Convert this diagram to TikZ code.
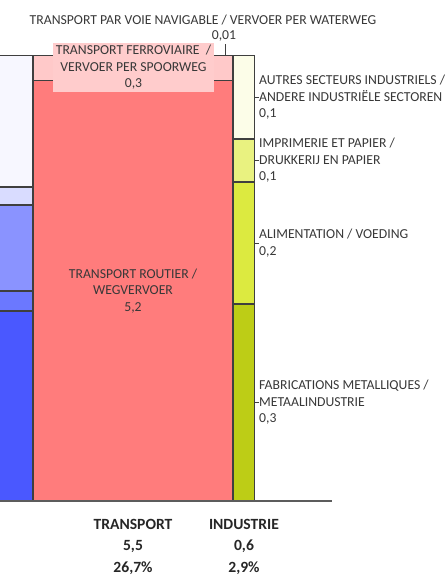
\documentclass[tikz,border=0pt]{standalone}
\usepackage{fontspec}
\setmainfont{Carlito}
\usetikzlibrary{positioning}

\definecolor{edgegrey}{HTML}{3F3F3F}
\definecolor{txtgrey}{HTML}{383838}
\definecolor{blueA}{HTML}{F7F7FF}
\definecolor{blueB}{HTML}{D9DCFF}
\definecolor{blueC}{HTML}{8A93FF}
\definecolor{blueD}{HTML}{6B78FF}
\definecolor{blueE}{HTML}{4A58FF}
\definecolor{roadred}{HTML}{FF7C7C}
\definecolor{railpink}{HTML}{FFC9C9}
\definecolor{railbox}{HTML}{FFCCCC}
\definecolor{indA}{HTML}{FCFDE8}
\definecolor{indB}{HTML}{E9F280}
\definecolor{indC}{HTML}{DCEA40}
\definecolor{indD}{HTML}{BDCD16}

\tikzset{
  segment/.style={draw=edgegrey, line width=1.2pt},
  sidelabel/.style={text=txtgrey, font=\fontsize{13.7}{16.5}\selectfont, align=left, anchor=west, inner sep=0pt},
  barlabel/.style={text=txtgrey, font=\fontsize{13.7}{16.5}\selectfont, align=center, inner sep=0pt},
  totallabel/.style={text=black!85, font=\bfseries\fontsize{15.6}{21.5}\selectfont, align=center, inner sep=0pt},
  leader/.style={draw=edgegrey, line width=0.6pt}
}

\begin{document}
\begin{tikzpicture}[x=1pt,y=-1pt]
\useasboundingbox (0,0) rectangle (445,576);

% left column (cut off)
\foreach \top/\bot/\col in {55.7/187/blueA, 187/205/blueB, 205/291/blueC, 291/311/blueD, 311/501/blueE}
  \draw[segment, fill=\col] (-5,\top) rectangle (33,\bot);

% transport column
\draw[segment, fill=railpink] (33,55.7) rectangle (233,80.7);
\draw[segment, fill=roadred] (33,80.7) rectangle (233,501);

% industry column
\foreach \top/\bot/\col in {55.7/139/indA, 139/182/indB, 182/304/indC, 304/501/indD}
  \draw[segment, fill=\col] (233,\top) rectangle (254.5,\bot);

% axis
\draw[draw=edgegrey!85, line width=1.2pt] (0,501) -- (332,501);

% transport labels
\node[barlabel] (water) at (203,20) {TRANSPORT PAR VOIE NAVIGABLE / VERVOER PER WATERWEG};
\node[barlabel] (waterval) at (224,36) {0,01};
\coordinate (waterpt) at (225,55.7);
\draw[leader] (waterpt) -- (waterpt |- 0,44);
\node[barlabel, fill=railbox, minimum width=161pt, minimum height=49pt] (rail) at (133.5,67.5)
  {TRANSPORT FERROVIAIRE\ \ /\\VERVOER PER SPOORWEG\\0,3};
\node[barlabel] (road) at (133,291) {TRANSPORT ROUTIER /\\WEGVERVOER\\5,2};

% industry labels
\node[sidelabel] (other) at (259,97.3) {AUTRES SECTEURS INDUSTRIELS /\\ANDERE INDUSTRIËLE SECTOREN\\0,1};
\node[sidelabel] (paper) at (259,160.5) {IMPRIMERIE ET PAPIER /\\DRUKKERIJ EN PAPIER\\0,1};
\node[sidelabel] (food) at (259,243) {ALIMENTATION / VOEDING\\0,2};
\node[sidelabel] (metal) at (259,402.5) {FABRICATIONS METALLIQUES /\\METAALINDUSTRIE\\0,3};
\foreach \lbl in {other, paper, food, metal}
  \draw[leader] (\lbl.west) -- ++(-4.5,0);

% totals
\node[totallabel] (transport) at (133,546.5) {TRANSPORT\\5,5\\26,7\%};
\node[totallabel] (industry) at (244,546.5) {INDUSTRIE\\0,6\\2,9\%};
\end{tikzpicture}
\end{document}
